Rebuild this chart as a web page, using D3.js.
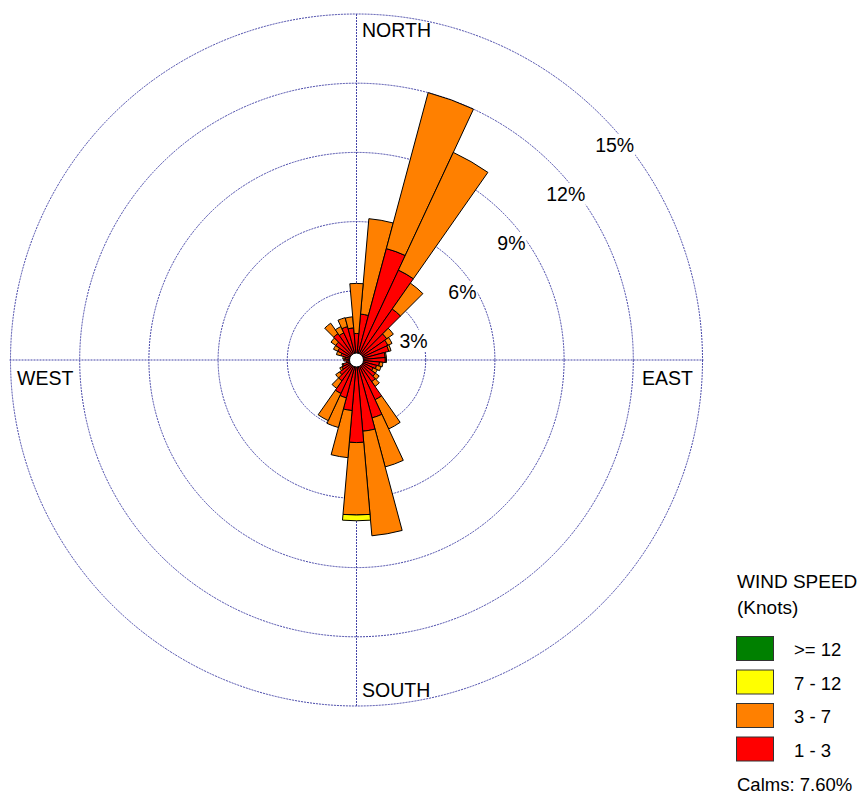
<!DOCTYPE html>
<html>
<head>
<meta charset="utf-8">
<script src="https://cdn.jsdelivr.net/npm/d3@7/dist/d3.min.js"></script>
<style>
  html, body { margin: 0; padding: 0; background: #ffffff; }
  svg { display: block; font-family: "Liberation Sans", Arial, sans-serif; }
</style>
</head>
<body>
<svg id="chart" width="859" height="794"></svg>
<script>
// Direction bins (degrees, clockwise from north)
const directions = [10,20,30,40,50,60,70,80,90,100,110,120,130,140,150,160,170,180,
                    190,200,210,220,230,240,250,260,270,280,290,300,310,320,330,340,350,360];
// Frequency (%) per speed class, per direction
const speed1to3 = [2.0,5.0,4.3,2.7,1.6,1.5,1.45,1.25,1.25,1.0,0.9,0.8,1.0,1.15,1.9,2.6,3.1,3.58,
                   2.2,1.7,1.6,1.1,0.9,0.7,0.6,0.45,0.55,0.5,0.7,0.9,1.1,1.4,1.3,1.5,1.4,1.15];
const speed3to7 = [4.15,7.0,5.63,1.37,0.35,0.2,0.1,0.05,0.05,0.15,0.2,0.2,0.2,0.25,1.4,2.2,4.55,3.14,
                   2.05,1.33,1.3,0.4,0.2,0.1,0.05,0,0,0.1,0.2,0.2,0.25,0.55,0.3,0.4,0.48,2.17];
const speed7to12 = [0,0,0,0,0,0,0,0,0,0,0,0,0,0,0,0,0,0.25,
                    0,0,0,0,0,0,0,0,0,0,0,0,0,0,0,0,0,0];
const speed12plus = [0,0,0,0,0,0,0,0,0,0,0,0,0,0,0,0,0,0,
                     0,0,0,0,0,0,0,0,0,0,0,0,0,0,0,0,0,0];
const ringTicks = [3, 6, 9, 12, 15];
const ringLabels = ["3%", "6%", "9%", "12%", "15%"];
const compassLabels = ["NORTH", "EAST", "SOUTH", "WEST"];
const legendTitle = ["WIND SPEED", "(Knots)"];
const legendLabels = [">= 12", "7 - 12", "3 - 7", "1 - 3"];
const calmsText = "Calms: 7.60%";

const speedSeries = [speed1to3, speed3to7, speed7to12, speed12plus];
const speedColors = ["#ff0000", "#ff8000", "#ffff00", "#008000"];

const svg = d3.select("#chart");
const cx = 356.5, cy = 360;
const r = d3.scaleLinear().domain([0, 15]).range([0, 346]);
const calmR = 7;
const gridColor = "#4646a8";

const g = svg.append("g").attr("transform", `translate(${cx},${cy})`);

// Rings
g.selectAll("circle.ring").data(ringTicks).join("circle")
  .attr("class", "ring")
  .attr("r", d => r(d))
  .attr("fill", "none")
  .attr("stroke", gridColor)
  .attr("stroke-width", 1)
  .attr("stroke-dasharray", "2,1");

// Axes
const R = r(15);
g.append("line").attr("x1", -R - 1).attr("x2", R + 1).attr("y1", 0).attr("y2", 0)
  .attr("stroke", gridColor).attr("stroke-width", 1).attr("stroke-dasharray", "2,1");
g.append("line").attr("x1", 0).attr("x2", 0).attr("y1", -R).attr("y2", R)
  .attr("stroke", gridColor).attr("stroke-width", 1).attr("stroke-dasharray", "2,1");

// Ring labels with white background
const labG = g.append("g");
ringTicks.forEach((t, i) => {
  const a = Math.PI / 4;
  const x = r(t) * Math.sin(a) - 6;
  const y = -r(t) * Math.cos(a) + 36.5;
  const txt = labG.append("text").attr("x", x).attr("y", y)
    .attr("font-size", 19.5).attr("fill", "#000").text(ringLabels[i]);
  const bb = txt.node().getBBox();
  labG.insert("rect", "text").attr("x", bb.x - 1).attr("y", bb.y).attr("width", bb.width + 2)
    .attr("height", bb.height).attr("fill", "#fff");
});

// Bars
const half = 5 * Math.PI / 180;
const arc = d3.arc();
const barsG = g.append("g");
directions.forEach((dir, i) => {
  let cum = 0;
  speedSeries.forEach((series, s) => {
    const v = series[i];
    if (v <= 0) return;
    const inner = cum;
    cum += v;
    const a = dir * Math.PI / 180;
    barsG.append("path")
      .attr("d", arc({innerRadius: r(inner), outerRadius: r(cum), startAngle: a - half, endAngle: a + half}))
      .attr("fill", speedColors[s])
      .attr("stroke", "#000")
      .attr("stroke-width", 1)
      .attr("stroke-linejoin", "miter");
  });
});

// Calm circle
g.append("circle").attr("r", calmR).attr("fill", "#fff").attr("stroke", "#000").attr("stroke-width", 1);

// Compass labels
const fs = 19.5;
svg.append("text").attr("x", 362).attr("y", 37).attr("font-size", fs).text(compassLabels[0]);
svg.append("text").attr("x", 642).attr("y", 385).attr("font-size", fs).text(compassLabels[1]);
svg.append("text").attr("x", 362).attr("y", 697).attr("font-size", fs).text(compassLabels[2]);
svg.append("text").attr("x", 17).attr("y", 385).attr("font-size", fs).text(compassLabels[3]);

// Legend
const lg = svg.append("g");
lg.append("text").attr("x", 737).attr("y", 588).attr("font-size", 19).text(legendTitle[0]);
lg.append("text").attr("x", 737).attr("y", 614).attr("font-size", 19).text(legendTitle[1]);
const legendColors = ["#008000", "#ffff00", "#ff8000", "#ff0000"];
legendLabels.forEach((lab, i) => {
  const y = 636 + i * 33.5;
  lg.append("rect").attr("x", 736.5).attr("y", y + 0.5).attr("width", 37).attr("height", 24)
    .attr("fill", legendColors[i]).attr("stroke", "#333").attr("stroke-width", 1);
  lg.append("text").attr("x", 794).attr("y", y + 20).attr("font-size", 18.5).text(lab);
});
lg.append("text").attr("x", 737).attr("y", 791).attr("font-size", 18.5).text(calmsText);
</script>
</body>
</html>
